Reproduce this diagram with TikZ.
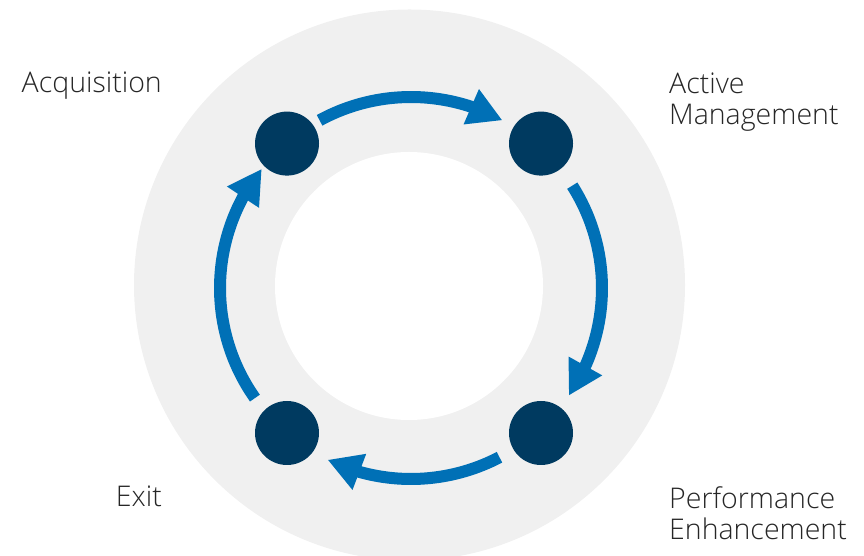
\documentclass[tikz,border=0pt]{standalone}
\usepackage{fontspec}
\setmainfont{Open Sans}[UprightFont=* Light]
\usetikzlibrary{arrows.meta,bending,calc}
\definecolor{ringgrey}{HTML}{F0F0F0}
\definecolor{dotnavy}{HTML}{003A60}
\definecolor{arrowblue}{HTML}{0070B6}
\tikzset{
  stage/.style={circle, fill=dotnavy, minimum size=64pt, inner sep=0pt},
  stagelabel/.style={anchor=base west, inner sep=0pt, align=left, font=\fontsize{28.5}{31}\selectfont, text=black!85},
  cyclearrow/.style={draw=arrowblue, line width=12pt, -{Triangle[length=34pt,width=36pt,flex]}},
}
\begin{document}
\begin{tikzpicture}[x=1pt,y=1pt]
\useasboundingbox (0,0) rectangle (864,556);
\clip (0,0) rectangle (864,556);
% ring
\fill[ringgrey] (409.5,271) circle[radius=275.5];
\fill[white] (409,270) circle[radius=134];
% stages
\node[stage] (acq) at (287,412.4) {};
\node[stage] (act) at (541,412.4) {};
\node[stage] (perf) at (541,123) {};
\node[stage] (exit) at (287,123) {};
% arrow anchors
\coordinate (C) at (411,268);
\coordinate (s1) at ($(C)+(118.6:191)$);
\coordinate (s2) at ($(C)+(32.4:191)$);
\coordinate (s3) at ($(C)+(-62.4:191)$);
\coordinate (s4) at ($(C)+(-144.8:191)$);
% arrows
\draw[cyclearrow] (s1) arc[start angle=118.6, end angle=61.4, radius=191];
\draw[cyclearrow] (s2) arc[start angle=32.4, end angle=-34.3, radius=191];
\draw[cyclearrow] (s3) arc[start angle=-62.4, end angle=-115.9, radius=191];
\draw[cyclearrow] (s4) arc[start angle=-144.8, end angle=-218.6, radius=191];
% labels
\node[stagelabel, anchor=base east] (lacq) at (162,463.5) {Acquisition};
\node[stagelabel] (lact) at (669,431.7) {Active\\Management};
\node[stagelabel, anchor=base east] (lexit) at (162,49) {Exit};
\node[stagelabel] (lperf) at (669,16.7) {Performance\\Enhancement};
\end{tikzpicture}
\end{document}
